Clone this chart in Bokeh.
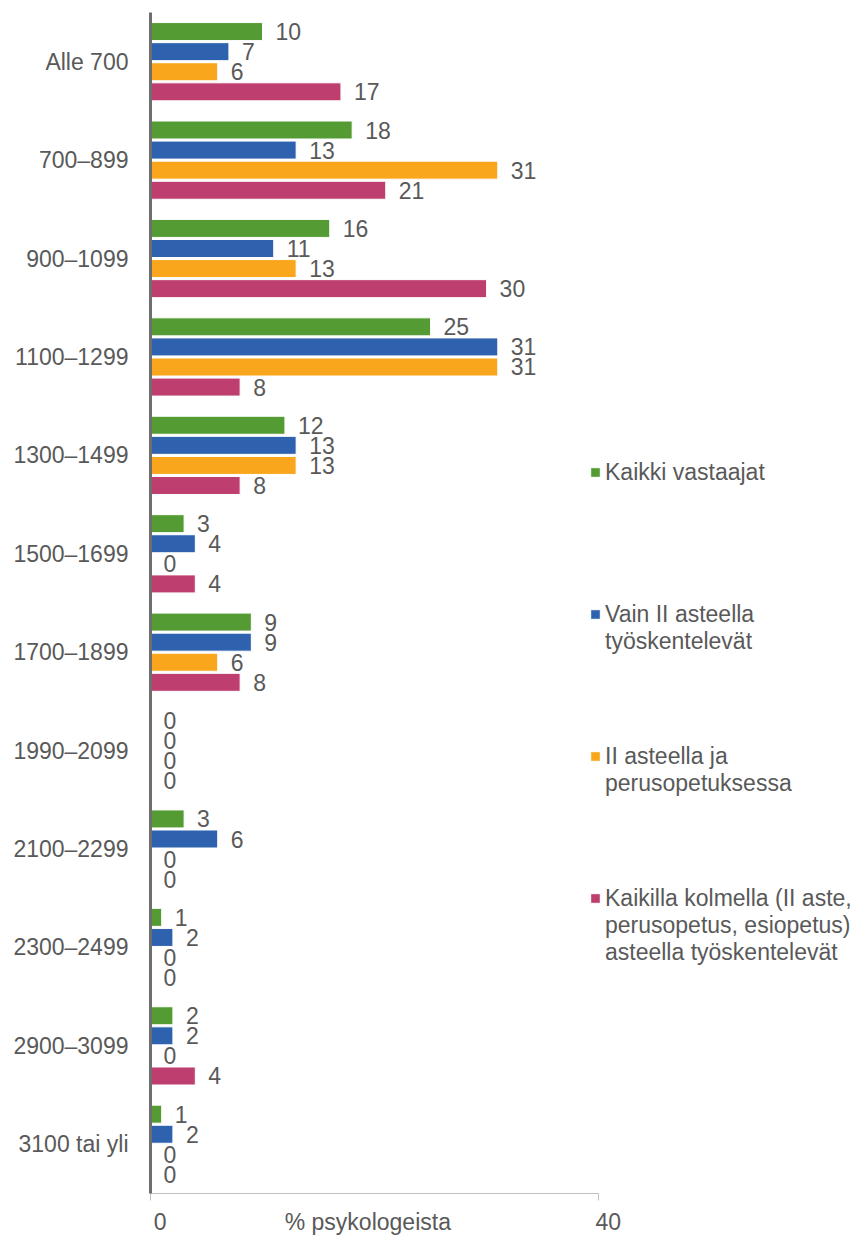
from bokeh.plotting import figure
from bokeh.models import (FactorRange, Range1d, Legend, LegendItem, ColumnDataSource,
                          FixedTicker)
from bokeh.transform import dodge
from bokeh.core.properties import value
from bokeh.embed import file_html
from bokeh.resources import INLINE

categories = ["Alle 700", "700–899", "900–1099", "1100–1299", "1300–1499", "1500–1699",
              "1700–1899", "1990–2099", "2100–2299", "2300–2499", "2900–3099", "3100 tai yli"]
kaikki_vastaajat = [10, 18, 16, 25, 12, 3, 9, 0, 3, 1, 2, 1]
vain_ii_asteella = [7, 13, 11, 31, 13, 4, 9, 0, 6, 2, 2, 2]
ii_ja_perusopetus = [6, 31, 13, 31, 13, 0, 6, 0, 0, 0, 0, 0]
kaikilla_kolmella = [17, 21, 30, 8, 8, 4, 8, 0, 0, 0, 4, 0]
series_names = [["Kaikki vastaajat"],
                ["Vain II asteella", "työskentelevät"],
                ["II asteella ja", "perusopetuksessa"],
                ["Kaikilla kolmella (II aste,", "perusopetus, esiopetus)", "asteella työskentelevät"]]
x_ticks = [0, 40]
x_tick_labels = ["0", "40"]
x_label = "% psykologeista"

colors = ["#539B32", "#2E62AE", "#F9A61C", "#BE3F6F"]
offsets = [0.306, 0.102, -0.102, -0.306]
FONT = "Liberation Sans"
TXT = "#595959"
NBSP = "\u00a0"

series = [kaikki_vastaajat, vain_ii_asteella, ii_ja_perusopetus, kaikilla_kolmella]
data = {"cat": categories}
for i, s in enumerate(series):
    data[f"v{i}"] = s
    data[f"t{i}"] = [str(v) for v in s]
source = ColumnDataSource(data)

p = figure(y_range=FactorRange(factors=categories[::-1]), x_range=Range1d(0, 64),
           frame_width=717, frame_height=1181, output_backend="svg", toolbar_location=None,
           min_border_left=150, min_border_top=12, min_border_right=0, min_border_bottom=40)

# leading blank lines put the first real line in the vertical middle (beside the glyph)
def legend_label(lines):
    return "\n".join([""] * (len(lines) - 1) + lines)

items = []
for i in range(4):
    r = p.hbar(y=dodge("cat", offsets[i], range=p.y_range), right=f"v{i}", left=0,
               height=0.183, source=source, fill_color=colors[i], line_color="white",
               line_width=1)
    p.text(x=f"v{i}", y=dodge("cat", offsets[i], range=p.y_range), text=f"t{i}",
           source=source, x_offset=13, text_align="left", text_baseline="middle",
           text_font=value(FONT), text_font_size="23px", text_color=TXT)
    items.append(LegendItem(label=legend_label(series_names[i]), renderers=[r]))

legend = Legend(items=items, location=(439, 225), padding=0, margin=0,
                label_text_font=FONT, label_text_font_size="23px", label_text_color=TXT,
                glyph_width=12, glyph_height=12, label_standoff=4, spacing=2,
                label_height=140, border_line_alpha=0, background_fill_alpha=0)
p.add_layout(legend, "center")

p.xgrid.visible = False
p.ygrid.visible = False
p.outline_line_color = None

# axis title sits on the tick-label row, a little left of the middle of the scale
label_pos = (x_ticks[0] + x_ticks[-1]) / 2 - 0.6
xa = p.xaxis[0]
xa.ticker = FixedTicker(ticks=[x_ticks[0], label_pos, x_ticks[-1]], minor_ticks=x_ticks)
xa.bounds = (x_ticks[0], x_ticks[-1])
xa.axis_line_color = "#C0C0C0"
xa.major_tick_line_color = None
xa.major_tick_out = 0
xa.major_tick_in = 0
xa.minor_tick_line_color = "#C0C0C0"
xa.minor_tick_out = 7
xa.minor_tick_in = 0
overrides = {t: NBSP * 3 + lab for t, lab in zip(x_ticks, x_tick_labels)}
overrides[label_pos] = x_label
xa.major_label_overrides = overrides
xa.major_label_text_font = FONT
xa.major_label_text_font_size = "23px"
xa.major_label_text_color = TXT
xa.major_label_standoff = 8

ya = p.yaxis[0]
ya.axis_line_color = "#6E6E6E"
ya.axis_line_width = 3
ya.major_tick_line_color = None
ya.minor_tick_line_color = None
ya.major_label_text_font = FONT
ya.major_label_text_font_size = "23px"
ya.major_label_text_color = TXT
ya.major_label_standoff = 16

open("out.html", "w").write(file_html(p, INLINE))
